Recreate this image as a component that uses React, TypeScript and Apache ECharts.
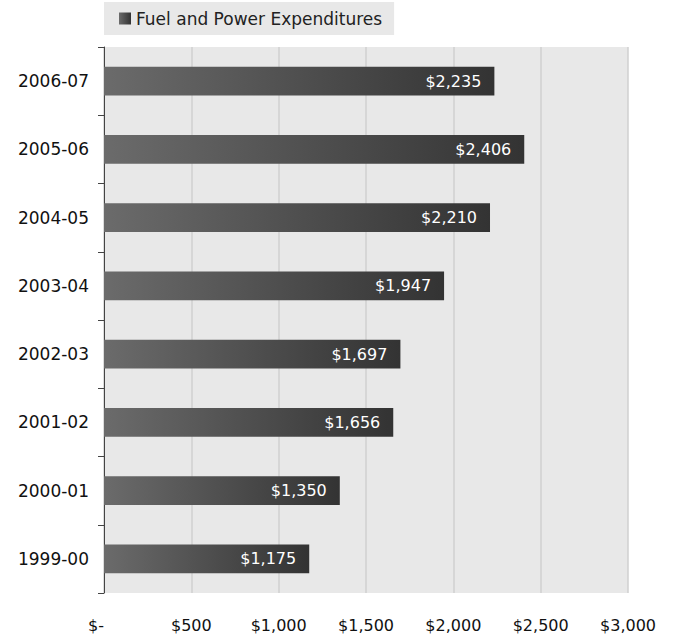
import React, { useEffect, useRef } from "react";
import * as echarts from "echarts";

const categories = ["1999-00", "2000-01", "2001-02", "2002-03", "2003-04", "2004-05", "2005-06", "2006-07"];
const values = [1175, 1350, 1656, 1697, 1947, 2210, 2406, 2235];
const seriesName = "Fuel and Power Expenditures";

const fmt = (v: number) => (v === 0 ? "$-" : "$" + v.toLocaleString("en-US"));
const FONT = "'DejaVu Sans', sans-serif";

export default function App() {
  const ref = useRef<HTMLDivElement>(null);
  useEffect(() => {
    const chart = echarts.init(ref.current!, null, { renderer: "svg" });
    const grad = new echarts.graphic.LinearGradient(0, 0, 1, 0, [
      { offset: 0, color: "#6b6b6b" },
      { offset: 1, color: "#333333" },
    ]);
    chart.setOption({
      animation: false,
      backgroundColor: "#ffffff",
      textStyle: { fontFamily: FONT },
      legend: {
        show: true,
        left: 104,
        top: 2,
        itemWidth: 12,
        itemHeight: 12,
        itemGap: 4,
        padding: [8, 12, 8, 15],
        backgroundColor: "#e8e8e8",
        icon: "rect",
        textStyle: { fontSize: 17, color: "#222", fontFamily: FONT },
        data: [seriesName],
      },
      grid: { left: 104, right: 45, top: 47, bottom: 44, show: true, backgroundColor: "#e8e8e8", borderWidth: 0 },
      xAxis: {
        type: "value",
        min: 0,
        max: 3000,
        interval: 500,
        axisLine: { show: false },
        axisTick: { show: false },
        splitLine: { show: true, lineStyle: { color: "#d0d0d0", width: 1.5 } },
        axisLabel: {
          formatter: (v: number) => (v === 0 ? "{z|$-}" : fmt(v)),
          fontSize: 16,
          color: "#111",
          margin: 24,
          rich: { z: { fontSize: 16, color: "#111", fontFamily: FONT, padding: [0, 16, 0, 0] } },
        },
      },
      yAxis: {
        type: "category",
        data: categories,
        axisLine: { show: true, lineStyle: { color: "#444", width: 1 } },
        axisTick: { show: true, length: 6, lineStyle: { color: "#444" } },
        axisLabel: { fontSize: 17, color: "#111", margin: 15 },
      },
      series: [
        {
          name: seriesName,
          type: "bar",
          data: values,
          barCategoryGap: "58%",
          itemStyle: { color: grad },
          label: {
            show: true,
            position: "insideRight",
            color: "#ffffff",
            fontSize: 16,
            distance: 13,
            formatter: (p: any) => fmt(p.value),
          },
        },
      ],
    });
    return () => chart.dispose();
  }, []);
  return <div ref={ref} style={{ width: 673, height: 637, position: "absolute", left: 0, top: 0 }} />;
}
